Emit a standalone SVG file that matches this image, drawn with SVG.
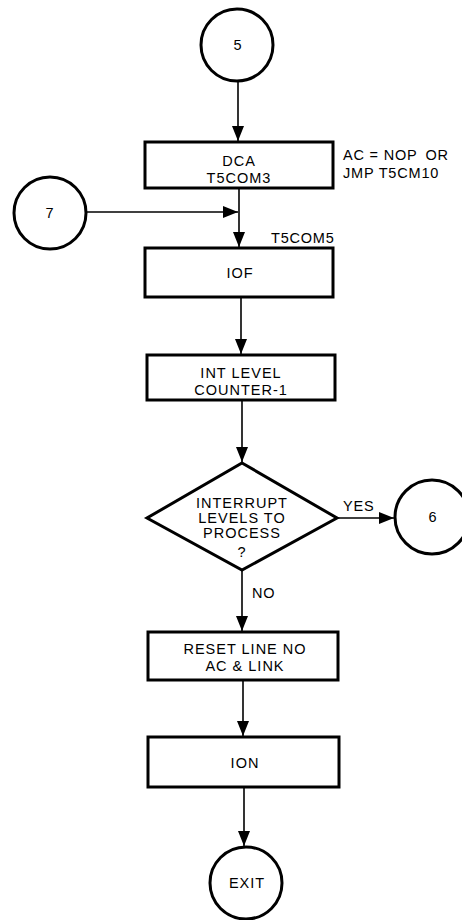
<svg xmlns="http://www.w3.org/2000/svg" width="462" height="920" viewBox="0 0 462 920">
<defs>
<marker id="ah" viewBox="0 0 10 10" refX="10" refY="5" markerWidth="15" markerHeight="12" markerUnits="userSpaceOnUse" orient="auto" preserveAspectRatio="none">
<path d="M0,0 L10,5 L0,10 Z" fill="#000"/>
</marker>
</defs>
<style>
.n{fill:#fff;stroke:#000;stroke-width:3}
.c{fill:none;stroke:#000;stroke-width:1.6}
.t{font-family:"Liberation Sans",Arial,sans-serif;font-size:14.5px;fill:#000;text-anchor:middle;letter-spacing:1px}
.l{font-family:"Liberation Sans",Arial,sans-serif;font-size:14.5px;fill:#000;letter-spacing:0.8px}
</style>
<rect width="462" height="920" fill="#fff"/>
<g id="connectors">
<path class="c" d="M238,82 V141" marker-end="url(#ah)"/>
<path class="c" d="M87,212 H238" marker-end="url(#ah)"/>
<path class="c" d="M239,188 V247" marker-end="url(#ah)"/>
<path class="c" d="M241,297 V354" marker-end="url(#ah)"/>
<path class="c" d="M242,400 V462" marker-end="url(#ah)"/>
<path class="c" d="M337,518 H394" marker-end="url(#ah)"/>
<path class="c" d="M242,570 V631" marker-end="url(#ah)"/>
<path class="c" d="M243,680 V736" marker-end="url(#ah)"/>
<path class="c" d="M244,787 V846" marker-end="url(#ah)"/>
<text class="l" x="343" y="511">YES</text>
<text class="l" x="252" y="598">NO</text>
</g>
<g id="c5">
<circle class="n" cx="237" cy="45" r="36"/>
<text class="t" x="238" y="50">5</text>
</g>
<g id="dca">
<rect class="n" x="145" y="142" width="188" height="46"/>
<text class="t" x="239" y="166">DCA</text>
<text class="t" x="239" y="183">T5COM3</text>
<text class="l" x="343" y="160">AC = NOP<tspan dx="8">OR</tspan></text>
<text class="l" x="343" y="178">JMP T5CM10</text>
</g>
<g id="c7">
<circle class="n" cx="50" cy="213" r="36"/>
<text class="t" x="50" y="218">7</text>
</g>
<g id="iof">
<text class="l" x="271" y="243">T5COM5</text>
<rect class="n" x="145" y="248" width="188" height="49"/>
<text class="t" x="240" y="278">IOF</text>
</g>
<g id="intlevel">
<rect class="n" x="147" y="355" width="188" height="45"/>
<text class="t" x="241" y="378">INT LEVEL</text>
<text class="t" x="241" y="395">COUNTER-1</text>
</g>
<g id="decision">
<polygon class="n" points="242,463 337,518 242,570 147,518"/>
<text class="t" x="242" y="508">INTERRUPT</text>
<text class="t" x="242" y="523">LEVELS TO</text>
<text class="t" x="242" y="538">PROCESS</text>
<text class="t" x="242" y="557">?</text>
</g>
<g id="c6">
<circle class="n" cx="432" cy="517" r="37"/>
<text class="t" x="433" y="522">6</text>
</g>
<g id="reset">
<rect class="n" x="148" y="632" width="190" height="48"/>
<text class="t" x="245" y="654">RESET LINE NO</text>
<text class="t" x="245" y="671">AC &amp; LINK</text>
</g>
<g id="ion">
<rect class="n" x="148" y="737" width="191" height="50"/>
<text class="t" x="245" y="768">ION</text>
</g>
<g id="exit">
<circle class="n" cx="246" cy="883" r="36"/>
<text class="t" x="247" y="888">EXIT</text>
</g>
</svg>
